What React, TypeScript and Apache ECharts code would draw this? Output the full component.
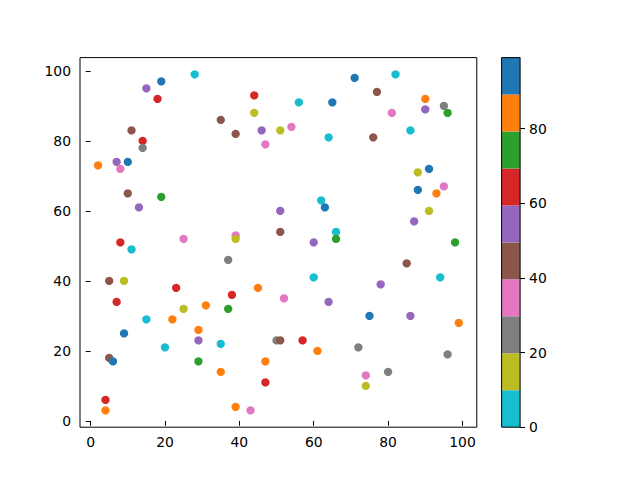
import React, { useEffect, useRef } from "react";
import * as echarts from "echarts";

const xValues = [28, 19, 15, 18, 44, 44, 35, 39, 46, 51, 47, 11, 14, 14, 7, 10, 2, 8, 10, 19, 13, 51, 51, 8, 25, 39, 39, 71, 82, 77, 56, 65, 90, 90, 95, 96, 81, 54, 64, 76, 86, 88, 91, 88, 95, 93, 91, 87, 62, 63, 66, 66, 60, 98, 11, 37, 5, 9, 23, 38, 45, 52, 7, 25, 31, 37, 15, 22, 29, 29, 9, 20, 35, 50, 51, 5, 6, 29, 47, 35, 47, 4, 4, 39, 43, 85, 60, 94, 78, 64, 75, 86, 99, 57, 61, 72, 96, 80, 74, 74];
const yValues = [99, 97, 95, 92, 93, 88, 86, 82, 83, 83, 79, 83, 80, 78, 74, 74, 73, 72, 65, 64, 61, 60, 54, 51, 52, 53, 52, 98, 99, 94, 91, 91, 92, 89, 90, 88, 88, 84, 81, 81, 83, 71, 72, 66, 67, 65, 60, 57, 63, 61, 54, 52, 51, 51, 49, 46, 40, 40, 38, 36, 38, 35, 34, 32, 33, 32, 29, 29, 26, 23, 25, 21, 22, 23, 23, 18, 17, 17, 17, 14, 11, 6, 3, 4, 3, 45, 41, 41, 39, 34, 30, 30, 28, 23, 20, 21, 19, 14, 13, 10];
const cValues = [5, 94, 54, 64, 64, 15, 45, 45, 54, 15, 35, 45, 64, 25, 54, 94, 84, 35, 45, 74, 54, 54, 45, 64, 35, 35, 15, 94, 5, 45, 5, 94, 84, 54, 25, 74, 35, 35, 5, 45, 5, 15, 94, 94, 35, 84, 15, 54, 5, 94, 5, 74, 54, 74, 5, 25, 45, 15, 64, 64, 84, 35, 64, 15, 84, 74, 5, 84, 84, 54, 94, 5, 5, 25, 45, 45, 94, 74, 84, 84, 64, 64, 84, 84, 35, 45, 5, 5, 54, 54, 94, 54, 84, 64, 84, 25, 25, 25, 35, 15];

const xTicks = [0, 20, 40, 60, 80, 100];
const yTicks = [0, 20, 40, 60, 80, 100];
const cTicks = [0, 20, 40, 60, 80];
const cMin = 0;
const cMax = 99;
const tab10r = ["#17becf", "#bcbd22", "#7f7f7f", "#e377c2", "#8c564b", "#9467bd", "#d62728", "#2ca02c", "#ff7f0e", "#1f77b4"];

const FONT = "DejaVu Sans";
const FS = 13.9;

function colorFor(c: number) {
  const idx = Math.min(9, Math.max(0, Math.floor(((c - cMin) / (cMax - cMin)) * 10)));
  return tab10r[idx];
}

export default function App() {
  const ref = useRef<HTMLDivElement>(null);
  useEffect(() => {
    if (!ref.current) return;
    const chart = echarts.init(ref.current, null, { renderer: "svg" });
    const xmin = Math.min(...xValues), xmax = Math.max(...xValues);
    const ymin = Math.min(...yValues), ymax = Math.max(...yValues);
    const xm = (xmax - xmin) * 0.05, ym = (ymax - ymin) * 0.05;
    const points = xValues.map((x, i) => ({
      value: [x, yValues[i], cValues[i]],
      itemStyle: { color: colorFor(cValues[i]), opacity: 1 },
    }));
    const bandSize = (cMax - cMin) / 10;
    const bandSeries = tab10r.map((col, i) => ({
      type: "bar",
      xAxisIndex: 1,
      yAxisIndex: 1,
      stack: "cb",
      barWidth: "100%",
      data: [bandSize],
      itemStyle: { color: col },
      silent: true,
    }));
    const labelStyle = { color: "#000", fontFamily: FONT, fontSize: FS };
    chart.setOption({
      animation: false,
      backgroundColor: "#fff",
      textStyle: { fontFamily: FONT },
      grid: [
        { left: 80, right: 163.2, top: 57.6, bottom: 52.8, show: true, borderColor: "#000", borderWidth: 1, backgroundColor: "transparent", containLabel: false },
        { left: 501.6, width: 18.5, top: 57.6, bottom: 52.8, show: true, borderColor: "#000", borderWidth: 1, z: 10, backgroundColor: "transparent" },
      ],
      xAxis: [
        {
          type: "value", gridIndex: 0, min: xmin - xm, max: xmax + xm,
          splitLine: { show: false },
          axisLine: { show: false },
          axisTick: { show: true, length: 4.9, lineStyle: { color: "#000", width: 1 }, customValues: xTicks },
          axisLabel: { ...labelStyle, margin: 8, customValues: xTicks, formatter: (v: number) => String(v) },
        },
        {
          type: "category", gridIndex: 1, data: [""], boundaryGap: true,
          axisLine: { show: false }, axisTick: { show: false }, axisLabel: { show: false }, splitLine: { show: false },
        },
      ],
      yAxis: [
        {
          type: "value", gridIndex: 0, min: ymin - ym, max: ymax + ym,
          splitLine: { show: false },
          axisLine: { show: false },
          axisTick: { show: true, length: 4.9, lineStyle: { color: "#000", width: 1 }, customValues: yTicks },
          axisLabel: { ...labelStyle, margin: 9, customValues: yTicks, formatter: (v: number) => String(v) },
        },
        {
          type: "value", gridIndex: 1, min: cMin, max: cMax, position: "right",
          splitLine: { show: false },
          axisLine: { show: false },
          axisTick: { show: true, length: 4.9, lineStyle: { color: "#000", width: 1 }, customValues: cTicks },
          axisLabel: { ...labelStyle, margin: 9, customValues: cTicks, formatter: (v: number) => String(v) },
        },
      ],
      series: [
        {
          type: "scatter",
          xAxisIndex: 0,
          yAxisIndex: 0,
          symbol: "circle",
          symbolSize: 8.3,
          itemStyle: { opacity: 1 },
          data: points,
        },
        ...bandSeries,
      ],
    });
    return () => chart.dispose();
  }, []);
  return <div ref={ref} style={{ position: "fixed", left: 0, top: 0, width: 640, height: 480 }} />;
}
